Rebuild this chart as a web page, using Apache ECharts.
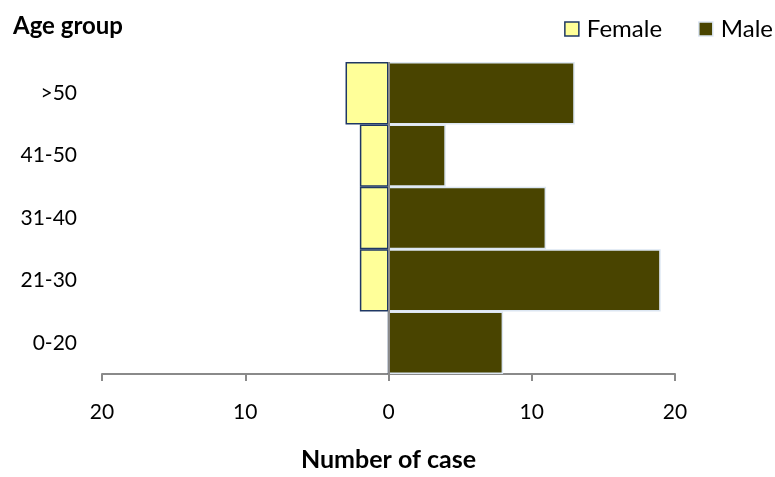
<!DOCTYPE html>
<html><head><meta charset="utf-8">
<script src="https://cdn.jsdelivr.net/npm/echarts@6/dist/echarts.min.js"></script>
<style>html,body{margin:0;padding:0;background:#fff}#c{width:775px;height:477px}</style>
</head><body><div id="c"></div>
<script>
const categories = ['0-20', '21-30', '31-40', '41-50', '>50'];
const female = [0, 2, 2, 2, 3];
const male = [8, 19, 11, 4, 13];
const xTicks = [-20, -10, 0, 10, 20];

const chart = echarts.init(document.getElementById('c'));
const font = 'Lato, "Open Sans", sans-serif';
chart.setOption({
  animation: false,
  textStyle: { fontFamily: font },
  grid: { left: 102, right: 100, top: 62, bottom: 97 },
  title: {
    text: 'Age group', left: 13, top: 14, padding: 0,
    textStyle: { fontFamily: font, fontSize: 24, fontWeight: 'bold', color: '#000' }
  },
  legend: {
    right: 2, top: 17, padding: 0, itemWidth: 14, itemHeight: 14, itemGap: 36,
    textStyle: { fontFamily: font, fontSize: 24, color: '#000', padding: [0, 0, 0, 3] },
    data: [
      { name: 'Female', icon: 'rect', itemStyle: { color: '#ffff99', borderColor: '#1f3864', borderWidth: 1.5 } },
      { name: 'Male', icon: 'rect', itemStyle: { color: '#494400', borderColor: '#dce6f2', borderWidth: 1.5 } }
    ]
  },
  xAxis: {
    type: 'value', min: xTicks[0], max: xTicks[xTicks.length - 1], interval: 10,
    name: 'Number of case', nameLocation: 'middle', nameGap: 73,
    nameTextStyle: { fontFamily: font, fontSize: 25, fontWeight: 'bold', color: '#000' },
    axisLine: { show: true, onZero: false, lineStyle: { color: '#8a8a8a', width: 2 } },
    axisTick: { show: true, length: 7, lineStyle: { color: '#8a8a8a', width: 2 } },
    axisLabel: { fontSize: 21, color: '#000', margin: 28, formatter: v => Math.abs(v) },
    splitLine: { show: false }
  },
  yAxis: {
    type: 'category', data: categories,
    axisLine: { show: false }, axisTick: { show: false },
    axisLabel: { fontSize: 21, color: '#000', margin: 25 }
  },
  series: [
    {
      name: 'Female', type: 'bar', barGap: '-100%', barCategoryGap: '0%',
      data: female.map(v => -v),
      itemStyle: { color: '#ffff99', borderColor: '#1f3864', borderWidth: 1.5 },
      markLine: {
        silent: true, symbol: 'none', label: { show: false },
        lineStyle: { color: '#8a8a8a', width: 2, type: 'solid' },
        data: [{ xAxis: 0 }]
      }
    },
    {
      name: 'Male', type: 'bar', barCategoryGap: '0%',
      data: male,
      itemStyle: { color: '#494400', borderColor: '#dce6f2', borderWidth: 1.5 }
    }
  ]
});
</script></body></html>
